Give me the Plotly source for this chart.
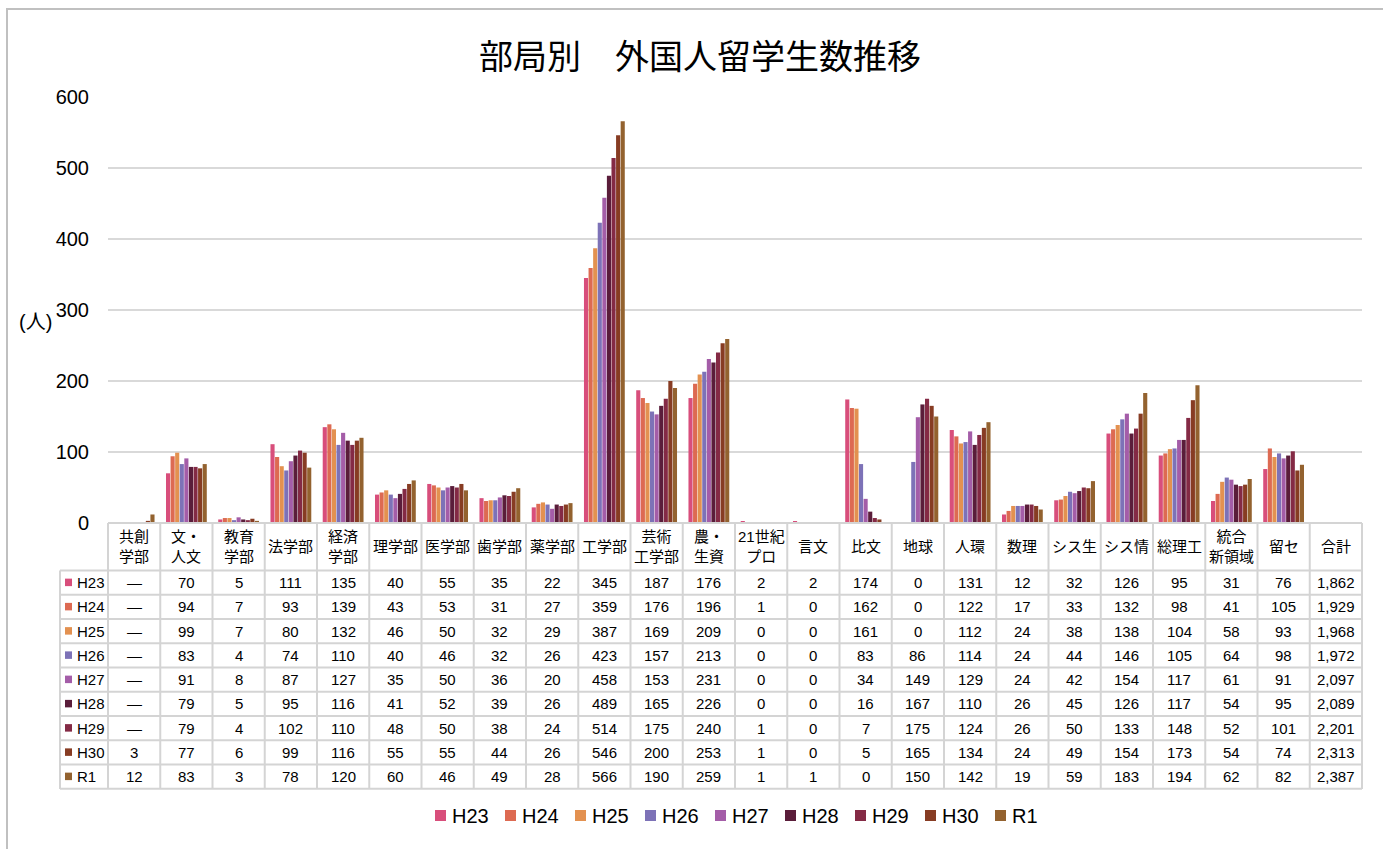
import plotly.graph_objects as go

# ---- data -------------------------------------------------------------
categories = ["共創学部", "文・人文", "教育学部", "法学部", "経済学部", "理学部", "医学部",
              "歯学部", "薬学部", "工学部", "芸術工学部", "農・生資", "21世紀プロ", "言文",
              "比文", "地球", "人環", "数理", "シス生", "シス情", "総理工", "統合新領域",
              "留セ", "合計"]
header_labels = ["共創<br>学部", "文・<br>人文", "教育<br>学部", "法学部", "経済<br>学部", "理学部",
                 "医学部", "歯学部", "薬学部", "工学部", "芸術<br>工学部", "農・<br>生資",
                 "21世紀<br>プロ", "言文", "比文", "地球", "人環", "数理", "シス生", "シス情",
                 "総理工", "統合<br>新領域", "留セ", "合計"]
years = ["H23", "H24", "H25", "H26", "H27", "H28", "H29", "H30", "R1"]

h23 = [None, 70, 5, 111, 135, 40, 55, 35, 22, 345, 187, 176, 2, 2, 174, 0, 131, 12, 32, 126, 95, 31, 76]
h24 = [None, 94, 7, 93, 139, 43, 53, 31, 27, 359, 176, 196, 1, 0, 162, 0, 122, 17, 33, 132, 98, 41, 105]
h25 = [None, 99, 7, 80, 132, 46, 50, 32, 29, 387, 169, 209, 0, 0, 161, 0, 112, 24, 38, 138, 104, 58, 93]
h26 = [None, 83, 4, 74, 110, 40, 46, 32, 26, 423, 157, 213, 0, 0, 83, 86, 114, 24, 44, 146, 105, 64, 98]
h27 = [None, 91, 8, 87, 127, 35, 50, 36, 20, 458, 153, 231, 0, 0, 34, 149, 129, 24, 42, 154, 117, 61, 91]
h28 = [None, 79, 5, 95, 116, 41, 52, 39, 26, 489, 165, 226, 0, 0, 16, 167, 110, 26, 45, 126, 117, 54, 95]
h29 = [None, 79, 4, 102, 110, 48, 50, 38, 24, 514, 175, 240, 1, 0, 7, 175, 124, 26, 50, 133, 148, 52, 101]
h30 = [3, 77, 6, 99, 116, 55, 55, 44, 26, 546, 200, 253, 1, 0, 5, 165, 134, 24, 49, 154, 173, 54, 74]
r1 = [12, 83, 3, 78, 120, 60, 46, 49, 28, 566, 190, 259, 1, 1, 0, 150, 142, 19, 59, 183, 194, 62, 82]
totals = [1862, 1929, 1968, 1972, 2097, 2089, 2201, 2313, 2387]

series = [h23, h24, h25, h26, h27, h28, h29, h30, r1]
colors = ["#D84E7B", "#DD6A52", "#E39150", "#7D72B7", "#A45DA8",
          "#5A1D3A", "#842A45", "#873C23", "#93622F"]

# ---- layout geometry (pixels) -----------------------------------------
W, H = 1383, 849
PL, PR, PT, PB = 108, 1362, 97, 789      # plot-area box incl. data table
ZERO_Y = 523                             # bottom of the bar area
HEAD_B = 570.5                           # bottom of table header row
ROW_H = 24.25
LABEL_L = 60                             # left edge of row-label column
LEG_X0, LEG_STEP, LEG_Y = 435, 70, 815.5 # legend row
LEG_SQ = 11

def fx(px):
    return (px - PL) / (PR - PL)

def fy(py):
    return (PB - py) / (PB - PT)

FONT = "Liberation Sans, Noto Sans CJK JP, sans-serif"
LINE = "#d4d4d4"
ncat = len(categories)

fig = go.Figure()
for name, vals, col in zip(years, series, colors):
    fig.add_trace(go.Bar(
        name=name, x=categories[:len(vals)], y=vals,
        marker=dict(color=col, line=dict(width=0)),
        showlegend=False,
    ))

shapes = []
annotations = []

# table grid: vertical separators between categories
for k in range(ncat + 1):
    shapes.append(dict(type="line", xref="paper", yref="paper",
                       x0=k / ncat, x1=k / ncat, y0=fy(ZERO_Y), y1=fy(PB),
                       line=dict(color=LINE, width=2)))
shapes.append(dict(type="line", xref="paper", yref="paper",
                   x0=fx(LABEL_L), x1=fx(LABEL_L), y0=fy(HEAD_B), y1=fy(PB),
                   line=dict(color=LINE, width=2)))
# horizontal rules
shapes.append(dict(type="line", xref="paper", yref="paper",
                   x0=0, x1=1, y0=fy(ZERO_Y), y1=fy(ZERO_Y),
                   line=dict(color=LINE, width=2)))
for i in range(len(years) + 1):
    yy = fy(HEAD_B + i * ROW_H)
    shapes.append(dict(type="line", xref="paper", yref="paper",
                       x0=fx(LABEL_L), x1=1, y0=yy, y1=yy,
                       line=dict(color=LINE, width=2)))

# header row
for cat, lab in zip(categories, header_labels):
    annotations.append(dict(x=cat, xref="x", y=fy((ZERO_Y + HEAD_B) / 2), yref="paper",
                            text=lab, showarrow=False, xanchor="center", yanchor="middle",
                            font=dict(family=FONT, size=15, color="#000")))

# data rows
for r, (name, vals, col, tot) in enumerate(zip(years, series, colors, totals)):
    yc = HEAD_B + (r + 0.5) * ROW_H
    shapes.append(dict(type="rect", xref="paper", yref="paper",
                       x0=fx(65), x1=fx(72), y0=fy(yc - 4), y1=fy(yc + 3.5),
                       fillcolor=col, line=dict(width=0)))
    annotations.append(dict(x=fx(75), xref="paper", y=fy(yc), yref="paper",
                            text=name, showarrow=False, xanchor="left", yanchor="middle",
                            font=dict(family=FONT, size=15, color="#000")))
    cells = ["—" if v is None else f"{v:,}" for v in vals] + [f"{tot:,}"]
    for cat, txt in zip(categories, cells):
        annotations.append(dict(x=cat, xref="x", y=fy(yc), yref="paper",
                                text=txt, showarrow=False, xanchor="center", yanchor="middle",
                                font=dict(family=FONT, size=15, color="#000")))

# legend row beneath the table
for i, (name, col) in enumerate(zip(years, colors)):
    x0 = LEG_X0 + i * LEG_STEP
    shapes.append(dict(type="rect", xref="paper", yref="paper",
                       x0=fx(x0), x1=fx(x0 + LEG_SQ),
                       y0=fy(LEG_Y - LEG_SQ / 2), y1=fy(LEG_Y + LEG_SQ / 2),
                       fillcolor=col, line=dict(width=0)))
    annotations.append(dict(x=fx(x0 + 15), xref="paper", y=fy(LEG_Y), yref="paper",
                            text=name, showarrow=False, xanchor="left", yanchor="middle",
                            font=dict(family=FONT, size=20, color="#000")))

# unit label
annotations.append(dict(x=fx(35), xref="paper", y=fy(322), yref="paper",
                        text="(人)", showarrow=False, xanchor="center", yanchor="middle",
                        font=dict(family=FONT, size=20, color="#000")))

# outer chart frame
shapes.append(dict(type="rect", xref="paper", yref="paper",
                   x0=fx(7), x1=fx(1395), y0=fy(9), y1=fy(870),
                   line=dict(color="#c0c0c0", width=2), fillcolor="rgba(0,0,0,0)"))

fig.update_layout(
    width=W, height=H,
    margin=dict(l=PL, r=W - PR, t=PT, b=H - PB),
    paper_bgcolor="white", plot_bgcolor="white",
    font=dict(family=FONT, color="#000"),
    title=dict(text="部局別　外国人留学生数推移", x=700 / W, xanchor="center",
               y=1 - 57 / H, yanchor="middle",
               font=dict(family=FONT, size=34, color="#000")),
    barmode="group", bargap=0.21, bargroupgap=0.1,
    showlegend=False,
    xaxis=dict(categoryorder="array", categoryarray=categories,
               range=[-0.5, ncat - 0.5], showticklabels=False,
               showgrid=False, zeroline=False, showline=False, fixedrange=True),
    yaxis=dict(domain=[fy(ZERO_Y), 1], range=[0, 600], dtick=100,
               showgrid=True, gridcolor="#d9d9d9", gridwidth=2,
               zeroline=False, showline=False,
               ticks="", ticklabelstandoff=18,
               tickfont=dict(family=FONT, size=20, color="#000")),
    shapes=shapes, annotations=annotations,
)

fig.write_html("out.html")
